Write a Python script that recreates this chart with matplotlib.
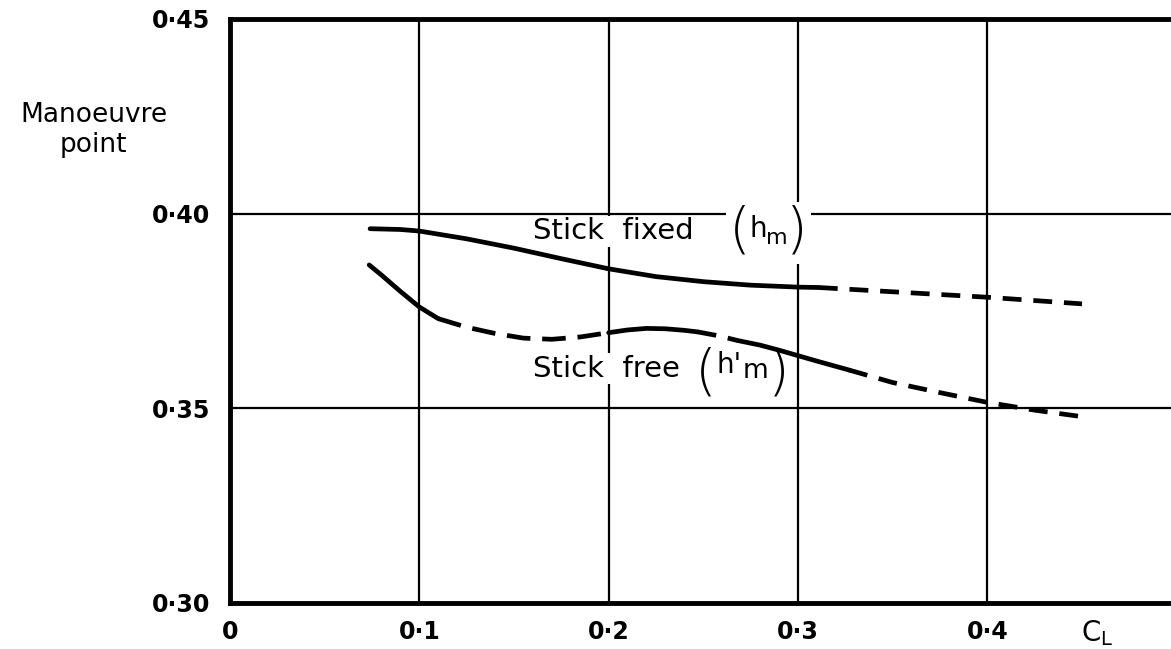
import matplotlib.pyplot as plt
import numpy as np

# --- Data ---

x_ticks = [0, 0.1, 0.2, 0.3, 0.4]
x_tick_labels = ['0', '0·1', '0·2', '0·3', '0·4']
y_ticks = [0.30, 0.35, 0.40, 0.45]
y_tick_labels = ['0·30', '0·35', '0·40', '0·45']

# Stick fixed (h_m): solid part measured, dashed part extrapolated
fixed_solid_x = [0.074, 0.09, 0.1, 0.125, 0.15, 0.175, 0.2, 0.225, 0.25, 0.275, 0.3, 0.311]
fixed_solid_y = [0.3961, 0.3959, 0.3955, 0.3935, 0.3911, 0.3884, 0.3858, 0.3838, 0.3825, 0.3816, 0.3811, 0.3810]
fixed_dash_x = [0.311, 0.35, 0.4, 0.45]
fixed_dash_y = [0.3810, 0.3799, 0.3785, 0.3768]

# Stick free (h'_m): alternating solid / dashed pieces
free_a_x = [0.0735, 0.08, 0.09, 0.1, 0.11]
free_a_y = [0.3868, 0.3842, 0.3800, 0.3760, 0.3730]
free_b_x = [0.11, 0.125, 0.14, 0.155, 0.17, 0.185, 0.2]
free_b_y = [0.3730, 0.3708, 0.3692, 0.3680, 0.3677, 0.3683, 0.3694]
free_c_x = [0.2, 0.21, 0.22, 0.23, 0.24, 0.247]
free_c_y = [0.3694, 0.3701, 0.3705, 0.3704, 0.3700, 0.3696]
free_d_x = [0.247, 0.258, 0.268]
free_d_y = [0.3696, 0.3686, 0.3674]
free_e_x = [0.268, 0.28, 0.29, 0.3, 0.31, 0.327]
free_e_y = [0.3674, 0.3662, 0.3649, 0.3635, 0.3621, 0.3598]
free_f_x = [0.327, 0.35, 0.375, 0.4, 0.425, 0.452]
free_f_y = [0.3598, 0.3566, 0.3540, 0.3515, 0.3495, 0.3477]

# --- Figure ---

plt.rcParams['font.family'] = ['DejaVu Sans']
fig = plt.figure(figsize=(11.71, 6.49), dpi=100)
ax = fig.add_axes([0.1964, 0.071, 0.8036, 0.9])

ax.set_xlim(0, 0.497)
ax.set_ylim(0.30, 0.45)

ax.set_xticks(x_ticks)
ax.set_xticklabels(x_tick_labels, fontsize=17, fontweight='bold')
ax.set_yticks(y_ticks)
ax.set_yticklabels(y_tick_labels, fontsize=17, fontweight='bold')
ax.tick_params(length=0, pad=12)
ax.tick_params(axis='y', pad=14)

ax.grid(True, color='black', linewidth=1.6)
ax.set_axisbelow(True)

for side in ['left', 'bottom', 'top']:
    ax.spines[side].set_linewidth(3.5)
ax.spines['right'].set_visible(False)

lw = 3.4
dash = (0, (4, 2.5))
ax.plot(fixed_solid_x, fixed_solid_y, color='black', lw=lw, solid_capstyle='round', zorder=5)
ax.plot(fixed_dash_x, fixed_dash_y, color='black', lw=lw, linestyle=dash, zorder=5)

ax.plot(free_a_x, free_a_y, color='black', lw=lw, solid_capstyle='round', zorder=5)
ax.plot(free_b_x, free_b_y, color='black', lw=lw, linestyle=(0, (5, 2.5)), zorder=5)
ax.plot(free_c_x, free_c_y, color='black', lw=lw, solid_capstyle='round', zorder=5)
ax.plot(free_d_x, free_d_y, color='black', lw=lw, linestyle=dash, zorder=5)
ax.plot(free_e_x, free_e_y, color='black', lw=lw, solid_capstyle='round', zorder=5)
ax.plot(free_f_x, free_f_y, color='black', lw=lw, linestyle=dash, zorder=5)


# Curve labels: a white box layer (breaks the grid lines) under the black glyphs
def label(x, y, s, size, pad=1, **kw):
    ax.text(x, y, s, fontsize=size, color='white', zorder=2,
            bbox=dict(facecolor='white', edgecolor='none', pad=pad), **kw)
    ax.text(x, y, s, fontsize=size, color='black', zorder=4, **kw)


left = dict(ha='left', va='center')
mid = dict(ha='center', va='center', fontweight='light')

label(0.160, 0.3955, 'Stick  fixed', 21, **left)
label(0.2745, 0.3960, 'h', 20, pad=7, **left)
label(0.2830, 0.3938, 'm', 16, pad=12, **left)
label(0.2690, 0.3953, '(', 40, pad=2, **mid)
label(0.2995, 0.3953, ')', 40, pad=2, **mid)

label(0.160, 0.3602, 'Stick  free', 21, **left)
label(0.2570, 0.3610, "h'", 20, **left)
label(0.2710, 0.3595, 'm', 19, pad=4, **left)
label(0.2515, 0.3590, '(', 40, pad=2, **mid)
label(0.2900, 0.3590, ')', 40, pad=2, **mid)

# Axis titles
fig.text(0.080, 0.80, 'Manoeuvre\npoint', fontsize=19, ha='center', va='center',
         linespacing=1.2)
fig.text(0.937, 0.025, r'$\mathrm{C_L}$', fontsize=20, ha='center', va='center')

fig.savefig('out.png', dpi=100)
